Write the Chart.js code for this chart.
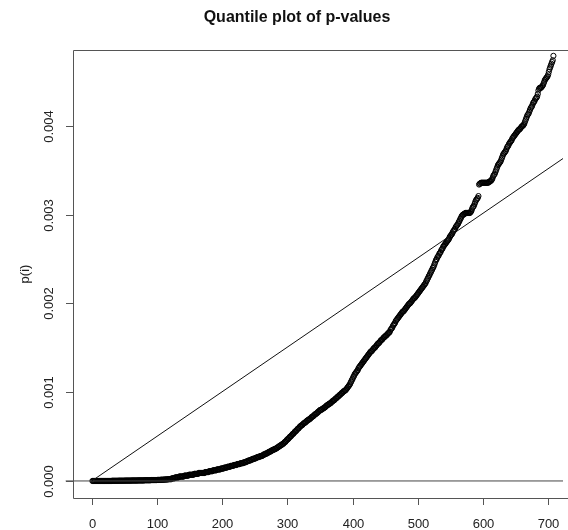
<!DOCTYPE html>
<html>
<head>
<meta charset="utf-8">
<script src="https://cdn.jsdelivr.net/npm/chart.js@4.4.1/dist/chart.umd.min.js"></script>
<style>
  html, body { margin: 0; padding: 0; background: #fff; }
  canvas { display: block; }
</style>
</head>
<body>
<canvas id="qplot" width="568" height="530"></canvas>
<script>
// sorted p-values (rank i = position in the list)
const pValues = [
  0, 0, 0, 0, 0, 0, 0, 0, 0, 0,
  0, 0, 0, 0, 0, 0, 0, 0, 0, 0,
  0, 0, 0, 0, 0, 0, 0, 0, 0, 0,
  0.000002, 0.000002, 0.000002, 0.000002, 0.000002, 0.000002, 0.000002, 0.000002, 0.000002, 0.000002,
  0.000003, 0.000003, 0.000003, 0.000003, 0.000003, 0.000003, 0.000003, 0.000003, 0.000003, 0.000003,
  0.000004, 0.000004, 0.000004, 0.000004, 0.000004, 0.000004, 0.000004, 0.000004, 0.000004, 0.000004,
  0.000005, 0.000005, 0.000005, 0.000005, 0.000005, 0.000005, 0.000005, 0.000005, 0.000005, 0.000005,
  0.000006, 0.000006, 0.000006, 0.000006, 0.000006, 0.000006, 0.000006, 0.000006, 0.000006, 0.000006,
  0.000008, 0.000008, 0.000008, 0.000008, 0.000008, 0.000008, 0.000008, 0.000008, 0.000008, 0.000008,
  0.00001, 0.00001, 0.00001, 0.00001, 0.00001, 0.00001, 0.00001, 0.00001, 0.00001, 0.00001,
  0.000012, 0.000012, 0.000012, 0.000012, 0.000012, 0.000014, 0.000014, 0.000014, 0.000014, 0.000014,
  0.000016, 0.000016, 0.000016, 0.000016, 0.000018, 0.000018, 0.000018, 0.00002, 0.00002, 0.00002,
  0.00002, 0.00002, 0.00003, 0.00003, 0.00003, 0.00003, 0.00003, 0.00004, 0.00004, 0.00004,
  0.00004, 0.00004, 0.00004, 0.00005, 0.00005, 0.00005, 0.00005, 0.00005, 0.00005, 0.00005,
  0.00005, 0.00006, 0.00006, 0.00006, 0.00006, 0.00006, 0.00006, 0.00006, 0.00007, 0.00007,
  0.00007, 0.00007, 0.00007, 0.00007, 0.00007, 0.00007, 0.00008, 0.00008, 0.00008, 0.00008,
  0.00008, 0.00008, 0.00008, 0.00009, 0.00009, 0.00009, 0.00009, 0.00009, 0.00009, 0.00009,
  0.00009, 0.00009, 0.00009, 0.0001, 0.0001, 0.0001, 0.0001, 0.0001, 0.0001, 0.00011,
  0.00011, 0.00011, 0.00011, 0.00011, 0.00011, 0.00012, 0.00012, 0.00012, 0.00012, 0.00012,
  0.00012, 0.00013, 0.00013, 0.00013, 0.00013, 0.00013, 0.00013, 0.00014, 0.00014, 0.00014,
  0.00014, 0.00014, 0.00015, 0.00015, 0.00015, 0.00015, 0.00015, 0.00016, 0.00016, 0.00016,
  0.00016, 0.00016, 0.00017, 0.00017, 0.00017, 0.00017, 0.00017, 0.00018, 0.00018, 0.00018,
  0.00018, 0.00018, 0.00019, 0.00019, 0.00019, 0.00019, 0.00019, 0.0002, 0.0002, 0.0002,
  0.0002, 0.0002, 0.00021, 0.00021, 0.00021, 0.00021, 0.00022, 0.00022, 0.00022, 0.00023,
  0.00023, 0.00023, 0.00023, 0.00024, 0.00024, 0.00024, 0.00025, 0.00025, 0.00025, 0.00025,
  0.00026, 0.00026, 0.00026, 0.00027, 0.00027, 0.00027, 0.00027, 0.00028, 0.00028, 0.00028,
  0.00028, 0.00029, 0.00029, 0.0003, 0.0003, 0.0003, 0.00031, 0.00031, 0.00031, 0.00032,
  0.00032, 0.00033, 0.00033, 0.00033, 0.00034, 0.00034, 0.00035, 0.00035, 0.00035, 0.00036,
  0.00036, 0.00036, 0.00037, 0.00037, 0.00038, 0.00038, 0.00039, 0.00039, 0.0004, 0.0004,
  0.00041, 0.00041, 0.00042, 0.00042, 0.00043, 0.00044, 0.00044, 0.00045, 0.00046, 0.00047,
  0.00047, 0.00048, 0.00049, 0.0005, 0.0005, 0.00051, 0.00052, 0.00053, 0.00053, 0.00054,
  0.00055, 0.00056, 0.00056, 0.00057, 0.00058, 0.00059, 0.00059, 0.0006, 0.00061, 0.00062,
  0.00062, 0.00063, 0.00063, 0.00064, 0.00065, 0.00065, 0.00066, 0.00066, 0.00067, 0.00068,
  0.00068, 0.00069, 0.00069, 0.0007, 0.0007, 0.00071, 0.00072, 0.00072, 0.00073, 0.00073,
  0.00074, 0.00075, 0.00075, 0.00076, 0.00076, 0.00077, 0.00078, 0.00078, 0.00079, 0.0008,
  0.0008, 0.0008, 0.00081, 0.00081, 0.00082, 0.00082, 0.00083, 0.00083, 0.00084, 0.00085,
  0.00085, 0.00086, 0.00086, 0.00087, 0.00087, 0.00088, 0.00088, 0.00089, 0.0009, 0.0009,
  0.00091, 0.00091, 0.00092, 0.00093, 0.00093, 0.00094, 0.00095, 0.00095, 0.00096, 0.00097,
  0.00097, 0.00098, 0.00099, 0.00099, 0.001, 0.00101, 0.00101, 0.00102, 0.00102, 0.00103,
  0.00104, 0.00105, 0.00106, 0.00107, 0.00108, 0.00109, 0.00111, 0.00112, 0.00114, 0.00115,
  0.00117, 0.00118, 0.0012, 0.00121, 0.00122, 0.00123, 0.00124, 0.00125, 0.00127, 0.00128,
  0.00129, 0.0013, 0.00131, 0.00132, 0.00133, 0.00134, 0.00135, 0.00136, 0.00137, 0.00138,
  0.00139, 0.0014, 0.00141, 0.00142, 0.00143, 0.00144, 0.00145, 0.00146, 0.00146, 0.00147,
  0.00148, 0.00149, 0.0015, 0.0015, 0.00151, 0.00152, 0.00153, 0.00154, 0.00155, 0.00155,
  0.00156, 0.00157, 0.00158, 0.00159, 0.00159, 0.0016, 0.00161, 0.00162, 0.00162, 0.00163,
  0.00164, 0.00164, 0.00165, 0.00166, 0.00167, 0.00167, 0.00168, 0.0017, 0.00171, 0.00172,
  0.00173, 0.00175, 0.00176, 0.00177, 0.00178, 0.0018, 0.00181, 0.00182, 0.00183, 0.00184,
  0.00185, 0.00186, 0.00187, 0.00188, 0.00189, 0.0019, 0.00191, 0.00191, 0.00192, 0.00193,
  0.00194, 0.00195, 0.00196, 0.00197, 0.00198, 0.00199, 0.002, 0.002, 0.00201, 0.00202,
  0.00203, 0.00204, 0.00205, 0.00206, 0.00206, 0.00207, 0.00208, 0.00209, 0.0021, 0.00211,
  0.00212, 0.00213, 0.00214, 0.00215, 0.00216, 0.00217, 0.00218, 0.00219, 0.0022, 0.00221,
  0.00222, 0.00223, 0.00225, 0.00226, 0.00228, 0.00229, 0.00231, 0.00232, 0.00234, 0.00235,
  0.00237, 0.00238, 0.0024, 0.00241, 0.00243, 0.00245, 0.00247, 0.00249, 0.0025, 0.00252,
  0.00253, 0.00254, 0.00256, 0.00257, 0.00258, 0.0026, 0.00261, 0.00262, 0.00264, 0.00265,
  0.00266, 0.00267, 0.00268, 0.00269, 0.0027, 0.00271, 0.00272, 0.00273, 0.00275, 0.00276,
  0.00277, 0.00278, 0.00279, 0.00281, 0.00282, 0.00283, 0.00284, 0.00286, 0.00287, 0.00288,
  0.00289, 0.0029, 0.00292, 0.00293, 0.00295, 0.00296, 0.00298, 0.00299, 0.003, 0.003,
  0.00301, 0.00301, 0.00302, 0.00302, 0.00302, 0.00302, 0.00302, 0.00302, 0.00302, 0.00302,
  0.00303, 0.00304, 0.00306, 0.00308, 0.00309, 0.0031, 0.00312, 0.00314, 0.00316, 0.00317,
  0.00318, 0.00319, 0.00321, 0.00334, 0.00335, 0.00335, 0.00336, 0.00336, 0.00336, 0.00336,
  0.00336, 0.00336, 0.00336, 0.00336, 0.00336, 0.00336, 0.00336, 0.00336, 0.00337, 0.00337,
  0.00338, 0.00338, 0.00339, 0.0034, 0.00342, 0.00344, 0.00345, 0.00346, 0.00348, 0.0035,
  0.00352, 0.00354, 0.00356, 0.00357, 0.00358, 0.00359, 0.0036, 0.00362, 0.00364, 0.00366,
  0.00368, 0.00369, 0.0037, 0.00371, 0.00372, 0.00374, 0.00376, 0.00377, 0.00378, 0.0038,
  0.00381, 0.00382, 0.00383, 0.00384, 0.00386, 0.00387, 0.00388, 0.00389, 0.0039, 0.00391,
  0.00392, 0.00393, 0.00394, 0.00395, 0.00396, 0.00396, 0.00397, 0.00398, 0.00399, 0.004,
  0.004, 0.00401, 0.00402, 0.00404, 0.00406, 0.00408, 0.0041, 0.00412, 0.00413, 0.00414,
  0.00416, 0.00418, 0.0042, 0.00421, 0.00422, 0.00424, 0.00426, 0.00427, 0.00428, 0.0043,
  0.00431, 0.00432, 0.00433, 0.00436, 0.0044, 0.00442, 0.00443, 0.00443, 0.00443, 0.00444,
  0.00445, 0.00446, 0.00448, 0.0045, 0.00452, 0.00453, 0.00454, 0.00455, 0.00456, 0.00458,
  0.00461, 0.00464, 0.00466, 0.00468, 0.0047, 0.00472, 0.00474, 0.00479
];

// reference line through the origin and the horizontal line at p = 0
const refLineX = [0, 740];
const refLineY = [0, 0.00372];
const zeroLineX = [-40, 760];
const zeroLineY = [0, 0];

const xTicks = [0, 100, 200, 300, 400, 500, 600, 700];
const yTicks = [0, 0.001, 0.002, 0.003, 0.004];
const yTickLabels = ["0.000", "0.001", "0.002", "0.003", "0.004"];
const titleText = "Quantile plot of p-values";
const yAxisTitle = "p(i)";

const FONT = "'Liberation Sans', Arial, sans-serif";

// base-R look: box, outward ticks, rotated y labels, title
const rAxes = {
  id: "rAxes",
  afterDraw(chart) {
    const ctx = chart.ctx;
    const area = chart.chartArea;
    const xs = chart.scales.x;
    const ys = chart.scales.y;
    ctx.save();

    ctx.strokeStyle = "#555";
    ctx.lineWidth = 1;
    ctx.beginPath();
    ctx.moveTo(chart.width, area.top + 0.5);
    ctx.lineTo(area.left + 0.5, area.top + 0.5);
    ctx.lineTo(area.left + 0.5, area.bottom + 0.5);
    ctx.lineTo(chart.width, area.bottom + 0.5);
    ctx.stroke();

    ctx.fillStyle = "#222";
    ctx.font = "13px " + FONT;
    ctx.textAlign = "center";
    ctx.textBaseline = "alphabetic";

    xTicks.forEach(t => {
      const px = Math.round(xs.getPixelForValue(t)) + 0.5;
      ctx.beginPath();
      ctx.moveTo(px, area.bottom);
      ctx.lineTo(px, area.bottom + 7);
      ctx.stroke();
      ctx.fillText(String(t), px, 528);
    });

    yTicks.forEach((t, i) => {
      const py = Math.round(ys.getPixelForValue(t)) + 0.5;
      ctx.beginPath();
      ctx.moveTo(area.left - 7, py);
      ctx.lineTo(area.left, py);
      ctx.stroke();
      ctx.save();
      ctx.translate(53, py);
      ctx.rotate(-Math.PI / 2);
      ctx.fillText(yTickLabels[i], 0, 0);
      ctx.restore();
    });

    ctx.save();
    ctx.translate(29, (area.top + area.bottom) / 2);
    ctx.rotate(-Math.PI / 2);
    ctx.fillText(yAxisTitle, 0, 0);
    ctx.restore();

    ctx.fillStyle = "#111";
    ctx.font = "bold 16px " + FONT;
    ctx.fillText(titleText, 297, 22);

    ctx.restore();
  }
};

new Chart(document.getElementById("qplot"), {
  type: "scatter",
  data: {
    datasets: [
      {
        label: "ref",
        data: refLineX.map((x, i) => ({ x: x, y: refLineY[i] })),
        showLine: true,
        borderColor: "#111",
        borderWidth: 1,
        pointRadius: 0,
        order: 0
      },
      {
        label: "zero",
        data: zeroLineX.map((x, i) => ({ x: x, y: zeroLineY[i] })),
        showLine: true,
        borderColor: "#444",
        borderWidth: 1,
        pointRadius: 0,
        clip: { left: 8, top: 0, right: 0, bottom: 0 },
        order: 0
      },
      {
        label: "p",
        data: pValues.map((p, i) => ({ x: i + 1, y: p })),
        pointRadius: 2.6,
        pointBorderWidth: 1,
        borderColor: "#000",
        backgroundColor: "rgba(0,0,0,0)",
        order: 1
      }
    ]
  },
  options: {
    responsive: false,
    animation: false,
    devicePixelRatio: 1,
    events: [],
    layout: { padding: { left: 73, top: 50, right: 0, bottom: 32 } },
    plugins: { legend: { display: false }, tooltip: { enabled: false }, title: { display: false } },
    scales: {
      x: { type: "linear", min: -28.8, max: 722.7, display: false },
      y: { type: "linear", min: -0.000192, max: 0.004856, display: false }
    }
  },
  plugins: [rAxes]
});
</script>
</body>
</html>
